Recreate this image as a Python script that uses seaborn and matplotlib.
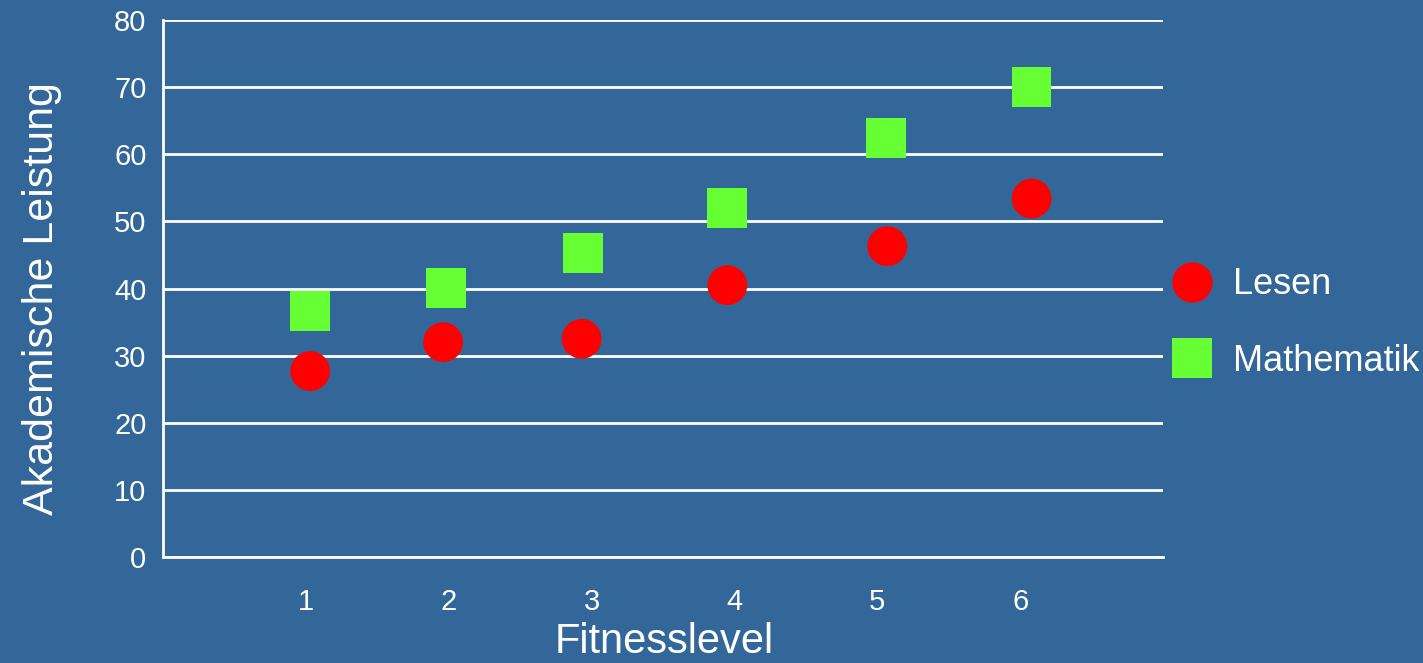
import matplotlib
matplotlib.use("Agg")
import matplotlib.pyplot as plt
import seaborn as sns
import pandas as pd

# Fitness level vs. academic performance
fitness_lesen = [1.03, 1.96, 2.93, 3.95, 5.07, 6.08]
lesen = [27.7, 32.0, 32.5, 40.5, 46.3, 53.4]
fitness_mathe = [1.03, 1.98, 2.94, 3.95, 5.06, 6.08]
mathematik = [36.7, 40.1, 45.3, 52.0, 62.4, 70.0]
series_names = ["Lesen", "Mathematik"]
x_ticks = [1, 2, 3, 4, 5, 6]
y_ticks = [0, 10, 20, 30, 40, 50, 60, 70, 80]

BG = "#336699"
sns.set_theme(style="white")
plt.rcParams["font.family"] = ["Liberation Sans", "DejaVu Sans"]

df = pd.DataFrame({
    "Fitnesslevel": fitness_lesen + fitness_mathe,
    "Leistung": lesen + mathematik,
    "Fach": [series_names[0]] * len(lesen) + [series_names[1]] * len(mathematik),
})

fig = plt.figure(figsize=(14.23, 6.63), dpi=100, facecolor=BG)
ax = fig.add_axes([0.1146, 0.1599, 0.7027, 0.8099])
ax.set_facecolor(BG)

sns.scatterplot(
    data=df, x="Fitnesslevel", y="Leistung", hue="Fach", style="Fach",
    palette={"Lesen": "#FF0000", "Mathematik": "#66FF33"},
    markers={"Lesen": "o", "Mathematik": "s"},
    s=820, edgecolor="none", linewidth=0, ax=ax, zorder=3, legend=True,
)

ax.set_xlim(0, 7)
ax.set_ylim(0, 80)
ax.set_yticks(y_ticks)
ax.set_xticks([0] + x_ticks)
ax.set_xticklabels([""] + [str(v) for v in x_ticks])
ax.yaxis.grid(True, color="white", linewidth=2)
ax.set_axisbelow(True)
for side in ["top", "right"]:
    ax.spines[side].set_visible(False)
for side in ["left", "bottom"]:
    ax.spines[side].set_color("white")
    ax.spines[side].set_linewidth(2)
ax.tick_params(axis="both", colors="white", direction="out", length=6, width=2,
               labelsize=21, labelcolor="white")
ax.tick_params(axis="x", pad=16)
ax.tick_params(axis="y", pad=6)

ax.set_xlabel("Fitnesslevel", color="white", fontsize=30, va="baseline")
ax.xaxis.set_label_coords(0.5015, -0.178)
ax.set_ylabel("Akademische Leistung", color="white", fontsize=31)
ax.yaxis.set_label_coords(-0.101, 0.482)

handles, labels = ax.get_legend_handles_labels()
ax.get_legend().remove()
leg = fig.legend(handles, labels, loc="center left", bbox_to_anchor=(0.8225, 0.5128),
                 frameon=False, fontsize=26, labelspacing=1.15, handlelength=1.2,
                 handletextpad=0.54, borderpad=0, borderaxespad=0, labelcolor="white")
for h in leg.legend_handles:
    h.set_markersize(29)
    h.set_markeredgewidth(0)

fig.savefig("out.png", dpi=100, facecolor=BG)
